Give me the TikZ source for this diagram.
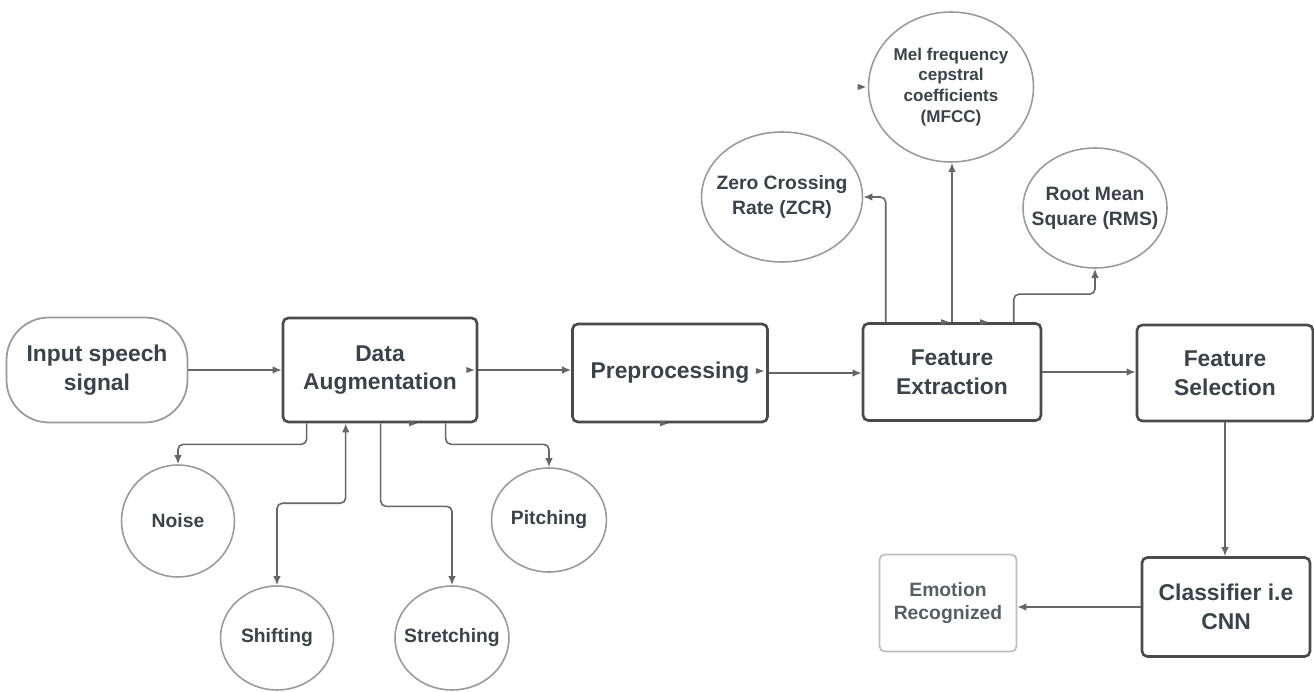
\documentclass[tikz,border=0pt]{standalone}
\usepackage{fontspec}
\setmainfont{Liberation Sans}
\usepackage{tikz}
\usetikzlibrary{arrows.meta, shapes.geometric, positioning, calc}
\usepackage{xcolor}

\definecolor{inkgray}{HTML}{3C414B}
\definecolor{edgegray}{HTML}{4A4A4A}
\definecolor{wiregray}{HTML}{666666}
\definecolor{ringgray}{HTML}{9A9A9A}
\definecolor{palegray}{HTML}{BDBDBD}

\tikzset{
  >={Latex[length=1.8mm,width=1.5mm]},
  stagebox/.style={draw=edgegray, line width=1.5pt, rounded corners=3pt, align=center, text=inkgray, font=\fontsize{13}{16.4}\selectfont\bfseries, inner sep=0pt},
  startbox/.style={stagebox, line width=1pt, draw=ringgray, rounded corners=0.85cm},
  endbox/.style={stagebox, line width=1pt, draw=palegray, text=inkgray!85, font=\fontsize{11}{13.4}\selectfont\bfseries},
  featring/.style={ellipse, draw=ringgray, line width=0.9pt, align=center, text=inkgray, font=\fontsize{11}{14.2}\selectfont\bfseries, inner xsep=-0.3cm, inner ysep=0pt},
  link/.style={draw=wiregray, line width=0.9pt, ->, rounded corners=3pt},
}
\newcommand{\tipmark}[1]{\fill[wiregray] (#1) -- ++(-8,-3) -- ++(0,6) -- cycle;}

\begin{document}
\begin{tikzpicture}[x=0.02cm, y=-0.02cm]
  \useasboundingbox (0,0) rectangle (1314,692);

  % Pipeline
  \node[startbox, minimum width=3.62cm, minimum height=2.1cm] (input) at (97,370) {Input speech\\signal};
  \node[stagebox, minimum width=3.88cm, minimum height=2.08cm] (aug) at (380,370) {Data\\Augmentation};
  \node[stagebox, minimum width=3.9cm, minimum height=1.96cm] (prep) at (670,373) {Preprocessing};
  \node[stagebox, minimum width=3.56cm, minimum height=1.94cm] (fe) at (952,372) {Feature\\Extraction};
  \node[stagebox, minimum width=3.52cm, minimum height=1.92cm] (fs) at (1225,373) {Feature\\Selection};
  \node[stagebox, minimum width=3.36cm, minimum height=1.98cm] (cls) at (1226,607) {Classifier i.e\\CNN};
  \node[endbox, minimum width=2.74cm, minimum height=1.94cm] (emo) at (948,603) {Emotion\\Recognized};

  % Augmentation methods
  \node[featring, minimum width=2.26cm, minimum height=2.24cm] (noise) at (178,521) {Noise};
  \node[featring, minimum width=2.26cm, minimum height=2.08cm] (shift) at (277,638) {Shifting};
  \node[featring, minimum width=2.28cm, minimum height=2.08cm] (stretch) at (452,638) {Stretching};
  \node[featring, minimum width=2.3cm, minimum height=2.08cm] (pitch) at (549,520) {Pitching};

  % Extracted features
  \node[featring, minimum width=3.22cm, minimum height=2.6cm] (zcr) at (782,197) {Zero Crossing\\Rate (ZCR)};
  \node[featring, minimum width=3.3cm, minimum height=3cm, font=\fontsize{9.7}{11.9}\selectfont\bfseries] (mfcc) at (951,87) {Mel frequency\\cepstral\\coefficients\\(MFCC)};
  \node[featring, minimum width=2.88cm, minimum height=2.4cm] (rms) at (1095,208) {Root Mean\\Square (RMS)};

  % Main flow
  \draw[link] (input.east) -- (aug.west);
  \draw[link] (aug.east) -- (aug.east -| prep.west);
  \draw[link] (prep.east) -- (prep.east -| fe.west);
  \draw[link] (fe.east) -- (fe.east -| fs.west);
  \draw[link] (fs.south) -- (fs.south |- cls.north);
  \draw[link] (cls.west) -- (cls.west -| emo.east);

  % Augmentation branches
  \draw[link] ($(aug.south west)+(25,0)$) -- ++(0,21) -| (noise.north);
  \draw[link, <->] (shift.north) -- ++(0,-82) -| ($(aug.south west)+(64,0)$);
  \draw[link] ($(aug.south west)+(99,0)$) -- ++(0,83) -| (stretch.north);
  \draw[link] ($(aug.south west)+(164,0)$) -- ++(0,21) -| (pitch.north);

  % Feature branches
  \draw[link] ($(fe.north west)+(24,0)$) |- (zcr.east);
  \draw[link] (fe.north) -- (fe.north |- mfcc.south);
  \draw[link] ($(fe.north west)+(152,0)$) -- ++(0,-28) -| (rms.south);

  % loose tips
  \tipmark{$(aug.east)+(-4,0)$}
  \tipmark{$(aug.south)+(37,0)$}
  \tipmark{$(prep.south)+(-2,0)$}
  \tipmark{$(prep.east)+(-5,-2)$}
  \tipmark{$(mfcc.west)+(-2,0)$}
  \tipmark{$(fe.north)+(-3,0)$}
  \tipmark{$(fe.north)+(36,0)$}
\end{tikzpicture}
\end{document}
